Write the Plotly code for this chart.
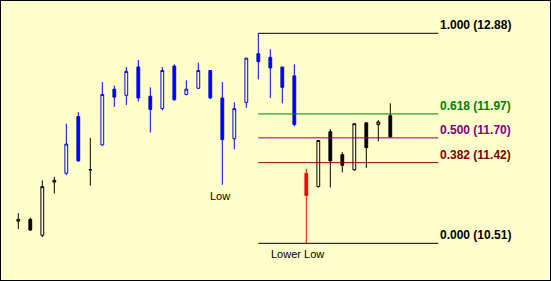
import plotly.graph_objects as go

# ---- data ----
opens  = [10.76, 10.78, 10.60, 11.20, 11.30, 11.94, 11.34, 11.62, 12.25, 12.18, 12.50, 12.17,
          12.03, 12.51, 12.19, 12.26, 12.46, 12.15, 11.69, 12.10, 12.65, 12.61, 12.50, 12.40,
          11.30, 11.15, 11.77, 11.51, 11.34, 11.87, 11.85, 11.95]
highs  = [10.85, 10.80, 11.22, 11.26, 11.86, 11.99, 11.70, 12.33, 12.29, 12.50, 12.58, 12.27,
          12.50, 12.53, 12.35, 12.55, 12.46, 12.33, 12.10, 12.60, 12.88, 12.70, 12.50, 12.53,
          11.35, 11.67, 11.80, 11.54, 11.86, 11.87, 11.90, 12.09]
lows   = [10.67, 10.65, 10.58, 11.07, 11.28, 11.43, 11.16, 11.61, 12.05, 12.07, 12.11, 11.76,
          12.01, 12.12, 12.18, 12.25, 12.14, 11.17, 11.57, 12.04, 12.36, 12.15, 12.09, 11.83,
          10.51, 11.14, 11.14, 11.31, 11.33, 11.36, 11.66, 11.70]
closes = [10.78, 10.66, 11.15, 11.22, 11.63, 11.44, 11.34, 12.19, 12.16, 12.45, 12.15, 12.02,
          12.46, 12.13, 12.25, 12.46, 12.15, 11.68, 12.03, 12.60, 12.56, 12.49, 12.27, 11.85,
          11.05, 11.67, 11.44, 11.39, 11.86, 11.59, 11.88, 11.71]
# colour group of each candle
groups = ["black", "black", "black", "black", "blue", "blue", "black", "blue", "blue", "blue",
          "blue", "blue", "blue", "blue", "blue", "blue", "blue", "blue", "blue", "blue",
          "blue", "blue", "blue", "blue", "red", "black", "black", "black", "black", "black",
          "black", "black"]

fib_ratios = ["1.000", "0.618", "0.500", "0.382", "0.000"]
fib_prices = [12.88, 11.97, 11.70, 11.42, 10.51]
fib_colors = ["#000000", "#008000", "#800080", "#800000", "#000000"]
fib_start, fib_end = 21, 36

notes = [("Low", 18, 11.17), ("Lower Low", 25, 10.51)]

BG = "#FFFFCC"
group_colors = {"black": "#000000", "blue": "#0000FF", "red": "#FF0000"}

idx = list(range(1, len(opens) + 1))
fig = go.Figure()

for g, col in group_colors.items():
    sel = [i for i in range(len(opens)) if groups[i] == g]
    fig.add_trace(go.Candlestick(
        x=[idx[i] for i in sel],
        open=[opens[i] for i in sel], high=[highs[i] for i in sel],
        low=[lows[i] for i in sel], close=[closes[i] for i in sel],
        increasing=dict(line=dict(color=col, width=1), fillcolor=BG),
        decreasing=dict(line=dict(color=col, width=1), fillcolor=col),
        whiskerwidth=0, showlegend=False, hoverinfo="skip",
    ))

for r, p, c in zip(fib_ratios, fib_prices, fib_colors):
    fig.add_trace(go.Scatter(x=[fib_start, fib_end], y=[p, p], mode="lines",
                             line=dict(color=c, width=1), showlegend=False, hoverinfo="skip"))
    fig.add_annotation(x=fib_end, y=p, text=f"{r} ({p:.2f})", showarrow=False,
                       xanchor="left", yanchor="middle", xshift=0, yshift=8,
                       font=dict(family="Liberation Sans", size=12, color=c, weight="bold"))

for txt, xi, yp in notes:
    fig.add_annotation(x=xi, y=yp, text=txt, showarrow=False, xanchor="center",
                       yanchor="top", xshift=-2 if txt == "Low" else -9, yshift=-3,
                       font=dict(family="Liberation Sans", size=11, color="#000000"))

fig.add_shape(type="rect", xref="paper", yref="paper", x0=0, y0=0, x1=1, y1=1,
              line=dict(color="#000000", width=2))

fig.update_layout(
    width=551, height=281, margin=dict(l=0, r=0, t=0, b=0),
    paper_bgcolor=BG, plot_bgcolor=BG, boxgap=0.667,
    xaxis=dict(range=[-0.525, 45.39], visible=False, rangeslider=dict(visible=False),
               showgrid=False, zeroline=False),
    yaxis=dict(range=[10.0845, 13.256], visible=False, showgrid=False, zeroline=False),
)

fig.write_html("out.html")
